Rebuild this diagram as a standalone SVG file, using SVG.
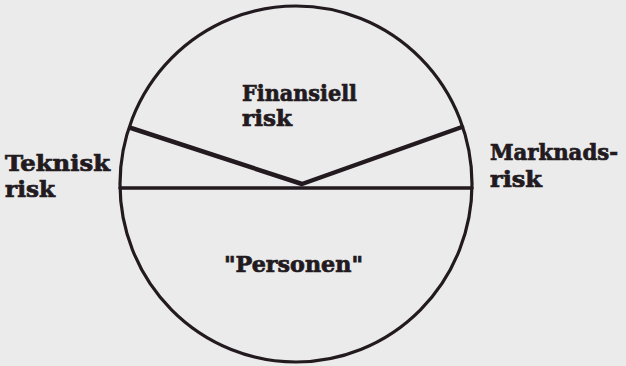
<svg xmlns="http://www.w3.org/2000/svg" width="626" height="366" viewBox="0 0 626 366">
  <style>
    .ln { fill: none; stroke: #221a1e; stroke-linecap: round; stroke-linejoin: round; }
    .lbl { font-family: "DejaVu Serif", "Liberation Serif", serif; font-weight: bold; font-size: 22px; fill: #221a1e; stroke: #221a1e; stroke-width: 0.7px; }
  </style>
  <rect width="626" height="366" fill="#ebebeb"/>
  <g id="circle">
    <ellipse class="ln" cx="296" cy="184" rx="176" ry="178" stroke-width="3.2"/>
  </g>
  <g id="dividers">
    <line class="ln" x1="120" y1="188" x2="472" y2="188" stroke-width="3.5"/>
    <polyline class="ln" points="131,128 302,184 462,127" stroke-width="4.5"/>
  </g>
  <g id="finansiell">
    <text class="lbl" x="242" y="101" textLength="115" lengthAdjust="spacingAndGlyphs">Finansiell</text>
    <text class="lbl" x="242" y="126" textLength="50" lengthAdjust="spacingAndGlyphs">risk</text>
  </g>
  <g id="teknisk">
    <text class="lbl" x="5" y="171" textLength="105" lengthAdjust="spacingAndGlyphs">Teknisk</text>
    <text class="lbl" x="5" y="197" textLength="50" lengthAdjust="spacingAndGlyphs">risk</text>
  </g>
  <g id="marknad">
    <text class="lbl" x="490" y="160" textLength="128" lengthAdjust="spacingAndGlyphs">Marknads-</text>
    <text class="lbl" x="490" y="187" textLength="52" lengthAdjust="spacingAndGlyphs">risk</text>
  </g>
  <g id="personen">
    <text class="lbl" x="224" y="272" textLength="139" lengthAdjust="spacingAndGlyphs">"Personen"</text>
  </g>
</svg>
